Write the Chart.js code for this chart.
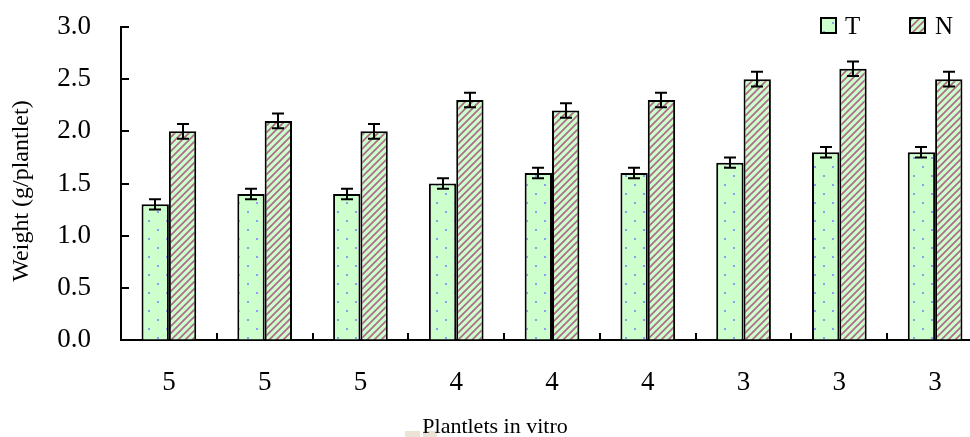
<!DOCTYPE html>
<html>
<head>
<meta charset="utf-8">
<script src="https://cdn.jsdelivr.net/npm/chart.js@4.4.1/dist/chart.umd.min.js"></script>
<style>
  html, body { margin: 0; padding: 0; background: #fff; overflow: hidden; }
  #wrap { width: 990px; height: 437px; }
</style>
</head>
<body>
<div id="wrap"><canvas id="c" width="990" height="437"></canvas></div>
<script>
// Number of plantlets per culture vessel (x categories)
const categories = ['5', '5', '5', '4', '4', '4', '3', '3', '3'];
// Mean fresh weight (g/plantlet)
const seriesT = [1.3, 1.4, 1.4, 1.5, 1.6, 1.6, 1.7, 1.8, 1.8];
const seriesN = [2.0, 2.1, 2.0, 2.3, 2.2, 2.3, 2.5, 2.6, 2.5];
// Standard errors
const errT = [0.05, 0.05, 0.05, 0.05, 0.05, 0.05, 0.05, 0.05, 0.05];
const errN = [0.07, 0.07, 0.07, 0.07, 0.07, 0.07, 0.07, 0.07, 0.07];
const seriesNames = ['T', 'N'];
const yTitle = 'Weight (g/plantlet)';
const xTitle = 'Plantlets in vitro';

const FONT = '"Liberation Serif", "Times New Roman", serif';

function makeTile(w, h, draw) {
  const t = document.createElement('canvas');
  t.width = w; t.height = h;
  const g = t.getContext('2d');
  draw(g, w, h);
  return document.getElementById('c').getContext('2d').createPattern(t, 'repeat');
}

// light green with sparse blue dots
const dotPattern = makeTile(18, 18, (g, w, h) => {
  g.fillStyle = '#ccffcc';
  g.fillRect(0, 0, w, h);
  g.fillStyle = '#8f9cf4';
  g.fillRect(4, 4, 2, 2);
  g.fillRect(13, 13, 2, 2);
});

// light green with maroon diagonal stripes
const stripePattern = makeTile(7, 7, (g, w, h) => {
  g.fillStyle = '#ccffcc';
  g.fillRect(0, 0, w, h);
  g.strokeStyle = '#b06a8a';
  g.lineWidth = 1.7;
  g.beginPath();
  g.moveTo(-1, h + 1); g.lineTo(w + 1, -1);
  g.moveTo(-1, 1); g.lineTo(1, -1);
  g.moveTo(w - 1, h + 1); g.lineTo(w + 1, h - 1);
  g.stroke();
});

const extras = {
  id: 'extras',
  afterDatasetsDraw(chart) {
    const ctx = chart.ctx;
    const y = chart.scales.y;
    const errs = [errT, errN];
    ctx.save();
    ctx.strokeStyle = '#000';
    ctx.lineWidth = 2;
    chart.data.datasets.forEach((ds, di) => {
      const meta = chart.getDatasetMeta(di);
      meta.data.forEach((bar, i) => {
        const v = ds.data[i], e = errs[di][i];
        const x = Math.round(bar.x);
        const yt = y.getPixelForValue(v + e);
        const yb = y.getPixelForValue(v - e);
        ctx.beginPath();
        ctx.moveTo(x, yt); ctx.lineTo(x, yb);
        ctx.moveTo(x - 6, yt); ctx.lineTo(x + 6, yt);
        ctx.moveTo(x - 6, yb); ctx.lineTo(x + 6, yb);
        ctx.stroke();
      });
    });
    ctx.restore();
  },
  afterDraw(chart) {
    const ctx = chart.ctx;
    const {left, right, top, bottom} = chart.chartArea;
    const y = chart.scales.y, x = chart.scales.x;
    ctx.save();
    ctx.strokeStyle = '#000';
    ctx.lineWidth = 2;
    // inward tick marks on the value axis
    y.ticks.forEach(t => {
      const py = Math.round(y.getPixelForValue(t.value));
      ctx.beginPath();
      ctx.moveTo(left, py); ctx.lineTo(left + 8, py);
      ctx.stroke();
    });
    // category separators on the x axis
    const step = (right - left) / categories.length;
    for (let k = 1; k < categories.length; k++) {
      const px = Math.round(left + step * k);
      ctx.beginPath();
      ctx.moveTo(px, bottom); ctx.lineTo(px, bottom - 7);
      ctx.stroke();
    }
    // axis titles
    ctx.fillStyle = '#000';
    ctx.font = '24px ' + FONT;
    ctx.textAlign = 'center';
    ctx.textBaseline = 'middle';
    ctx.save();
    ctx.translate(22, 191);
    ctx.rotate(-Math.PI / 2);
    ctx.fillText(yTitle, 0, 0);
    ctx.restore();
    ctx.fillStyle = '#ebe3d3';
    ctx.fillRect(405, 431, 15, 6);
    ctx.fillRect(423, 431, 14, 6);
    ctx.fillStyle = '#000';
    ctx.font = '22px ' + FONT;
    ctx.textBaseline = 'alphabetic';
    ctx.fillText(xTitle, 495, 433);
    // legend
    const fills = [dotPattern, stripePattern];
    const boxX = [821, 910], textX = [845, 935];
    ctx.font = '25px ' + FONT;
    ctx.textAlign = 'left';
    ctx.textBaseline = 'middle';
    seriesNames.forEach((n, i) => {
      ctx.fillStyle = fills[i];
      ctx.fillRect(boxX[i], 18, 15, 15);
      ctx.lineWidth = 2;
      ctx.strokeRect(boxX[i], 18, 15, 15);
      ctx.fillStyle = '#000';
      ctx.fillText(n, textX[i], 27);
    });
    ctx.restore();
  }
};

new Chart(document.getElementById('c'), {
  type: 'bar',
  data: {
    labels: categories,
    datasets: [
      { label: seriesNames[0], data: seriesT, backgroundColor: dotPattern, borderColor: '#000', borderWidth: 2 },
      { label: seriesNames[1], data: seriesN, backgroundColor: stripePattern, borderColor: '#000', borderWidth: 2 }
    ]
  },
  options: {
    responsive: false,
    animation: false,
    devicePixelRatio: 1,
    layout: { padding: { top: 27, right: 7, left: 0, bottom: 0 } },
    datasets: { bar: { categoryPercentage: 0.571, barPercentage: 1.0 } },
    plugins: { legend: { display: false }, tooltip: { enabled: false } },
    scales: {
      x: {
        grid: { display: true, color: 'rgba(0,0,0,0)', drawTicks: false },
        border: { display: true, color: '#000', width: 2 },
        ticks: { color: '#000', font: { family: FONT, size: 27 }, padding: 27, maxRotation: 0 },
        afterFit(s) { s.height = 97; s.paddingLeft = 0; s.paddingRight = 0; }
      },
      y: {
        min: 0, max: 3,
        grid: { display: true, color: 'rgba(0,0,0,0)', drawTicks: false },
        border: { display: true, color: '#000', width: 2 },
        ticks: { stepSize: 0.5, color: '#000', font: { family: FONT, size: 27 }, padding: 30,
                 callback: v => Number(v).toFixed(1) },
        afterFit(s) { s.width = 121; s.paddingTop = 0; s.paddingBottom = 0; }
      }
    }
  },
  plugins: [extras]
});
</script>
</body>
</html>
